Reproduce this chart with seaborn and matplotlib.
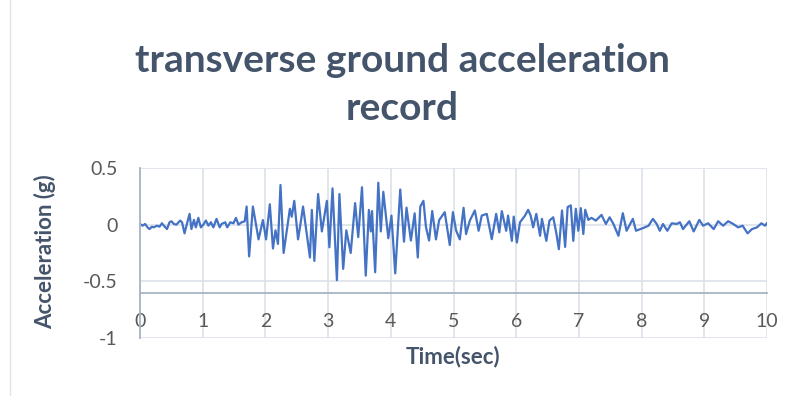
import matplotlib
matplotlib.use('Agg')
import matplotlib.pyplot as plt
from matplotlib.lines import Line2D
import numpy as np
import pandas as pd
import seaborn as sns


# Values (time in s, acceleration in g)
time_sec = [
    0.00, 0.04, 0.08, 0.12, 0.15, 0.19, 0.22, 0.27, 0.31, 0.35, 0.38, 0.43,
    0.47, 0.50, 0.54, 0.58, 0.64, 0.67, 0.71, 0.74, 0.79, 0.82, 0.86, 0.89,
    0.93, 0.97, 1.01, 1.05, 1.09, 1.13, 1.17, 1.22, 1.27, 1.30, 1.36, 1.39,
    1.44, 1.49, 1.53, 1.57, 1.62, 1.67,
    1.70, 1.74, 1.80, 1.89, 1.96, 2.01, 2.07, 2.12, 2.16, 2.20, 2.24, 2.29,
    2.39, 2.42, 2.46, 2.52, 2.56, 2.60, 2.71, 2.74, 2.78, 2.84, 2.90, 2.98,
    3.02, 3.07, 3.14, 3.18, 3.24, 3.29, 3.36, 3.43, 3.48, 3.54, 3.60, 3.65,
    3.68, 3.70, 3.75, 3.80, 3.84, 3.88, 3.96, 4.01, 4.07, 4.15, 4.21, 4.25,
    4.32, 4.38, 4.43, 4.47, 4.52, 4.56, 4.61, 4.66, 4.72, 4.77, 4.86, 4.94,
    4.99, 5.04, 5.10,
    5.16, 5.20, 5.26, 5.34, 5.40, 5.45, 5.53, 5.61, 5.68, 5.73, 5.77, 5.84,
    5.87, 5.93, 5.96, 6.01, 6.06, 6.14, 6.19, 6.23, 6.27, 6.32, 6.38, 6.41,
    6.48, 6.53, 6.59, 6.64, 6.68, 6.73, 6.78, 6.82, 6.87, 6.91, 6.95, 6.99,
    7.03, 7.07, 7.10, 7.15, 7.20, 7.27, 7.36, 7.43, 7.49, 7.55, 7.63, 7.70,
    7.76, 7.86, 7.91, 7.98, 8.05, 8.11, 8.18, 8.24, 8.29, 8.34, 8.41, 8.48,
    8.56, 8.61, 8.66, 8.76, 8.83, 8.92, 8.98, 9.06, 9.15, 9.22, 9.30, 9.38,
    9.46, 9.54, 9.61, 9.69, 9.76, 9.84, 9.91, 9.97, 10.00,
]
accel_g = [
    0.006, -0.009, 0.006, -0.024, -0.039, -0.018, -0.024, -0.009, -0.018,
    0.012, -0.009, -0.039, 0.021, 0.030, 0.006, 0.000, 0.036, 0.021, -0.077,
    -0.009, 0.095, -0.039, 0.042, -0.024, 0.060, -0.024, 0.000, 0.036,
    -0.009, 0.021, -0.024, 0.051, -0.024, 0.006, 0.021, -0.024, 0.021,
    0.012, 0.060, 0.000, 0.021, 0.030,
    0.16, -0.28, 0.16, -0.13, 0.04, -0.13, 0.18, -0.21, -0.05, -0.17, 0.35,
    -0.25, 0.14, 0.07, 0.21, -0.13, 0.01, 0.16, -0.29, 0.13, -0.32, 0.27,
    -0.06, 0.21, -0.20, 0.32, -0.49, 0.27, -0.39, -0.05, -0.25, 0.19, -0.11,
    0.33, -0.45, 0.13, -0.06, 0.12, -0.42, 0.37, -0.06, 0.29, -0.12, 0.08,
    -0.43, 0.31, -0.15, 0.15, -0.14, 0.10, -0.29, 0.16, 0.21, -0.02, -0.14,
    0.12, -0.13, 0.04, 0.11, -0.18, 0.11, -0.05, -0.13,
    0.149, -0.083, 0.036, 0.125, -0.054, 0.080, 0.095, -0.128, 0.095,
    -0.068, 0.119, -0.054, 0.080, -0.143, 0.071, -0.158, 0.021, 0.080,
    0.131, 0.080, -0.024, 0.095, -0.098, 0.051, -0.143, 0.036, 0.065,
    -0.077, -0.217, 0.125, -0.196, 0.155, 0.170, -0.143, 0.140, -0.054,
    0.146, -0.083, 0.131, 0.042, 0.060, 0.036, 0.086, 0.006, 0.065, 0.006,
    -0.098, 0.101, -0.054, 0.051, -0.054, -0.039, -0.024, -0.009, 0.051,
    0.006, -0.054, 0.006, -0.054, 0.012, 0.006, 0.021, -0.039, 0.030,
    -0.060, 0.042, -0.009, 0.012, -0.039, 0.030, -0.009, 0.030, 0.006,
    -0.024, -0.009, -0.077, -0.039, -0.024, 0.012, -0.009, 0.015,
]

x_ticks = [0, 1, 2, 3, 4, 5, 6, 7, 8, 9, 10]
y_ticks = [-1, -0.5, 0, 0.5]
y_tick_labels = ['-1', '-0.5', '0', '0.5']

title_text = 'transverse ground acceleration\nrecord'
x_label = 'Time(sec)'
y_label = 'Acceleration (g)'

line_color = '#4472C4'
grid_color = '#DCE1E9'
axis_color = '#A9B3C4'
text_color = '#44546A'
tick_color = '#595959'

sns.set_style('white')
plt.rcParams['font.family'] = ['Lato', 'DejaVu Sans']

df = pd.DataFrame({'t': time_sec, 'a': accel_g})

fig = plt.figure(figsize=(7.97, 3.96), dpi=100)
ax = fig.add_axes([0.1757, 0.1465, 0.7867, 0.4293])

sns.lineplot(data=df, x='t', y='a', ax=ax, color=line_color,
             linewidth=1.6, estimator=None, sort=False)

ax.set_xlim(0, 10)
ax.set_ylim(-1, 0.5)
ax.set_xticks(x_ticks)
ax.set_yticks(y_ticks)
ax.set_yticklabels(y_tick_labels)

# gridlines like excel
for xv in x_ticks:
    ax.axvline(xv, color=grid_color, lw=1.2, zorder=0)
for yv in y_ticks:
    ax.axhline(yv, color=grid_color, lw=1.2, zorder=0)

# horizontal axis crosses at -0.6
for s in ['top', 'right']:
    ax.spines[s].set_visible(False)
ax.spines['bottom'].set_position(('data', -0.6))
ax.spines['bottom'].set_color(axis_color)
ax.spines['bottom'].set_linewidth(1.3)
ax.spines['left'].set_color(axis_color)
ax.spines['left'].set_linewidth(1.3)

ax.tick_params(axis='x', length=0, pad=15, labelsize=14, labelcolor=tick_color)
ax.tick_params(axis='y', length=0, pad=16, labelsize=14, labelcolor=tick_color)

ax.set_xlabel('')
ax.set_ylabel('')
fig.text(0.568, 0.10, x_label, ha='center', va='center', fontsize=16,
         fontweight='bold', color=text_color)
fig.text(0.056, 0.364, y_label, ha='center', va='center', fontsize=16,
         fontweight='bold', color=text_color, rotation=90)

fig.text(0.505, 0.787, title_text, ha='center', va='center', fontsize=28,
         fontweight='bold', color=text_color, linespacing=1.45)

# faint chart-area border on the left
fig.add_artist(Line2D([0.0125, 0.0125], [0, 1], color='#E3E3E3', lw=1,
                      transform=fig.transFigure))

fig.savefig('out.png', dpi=100)
